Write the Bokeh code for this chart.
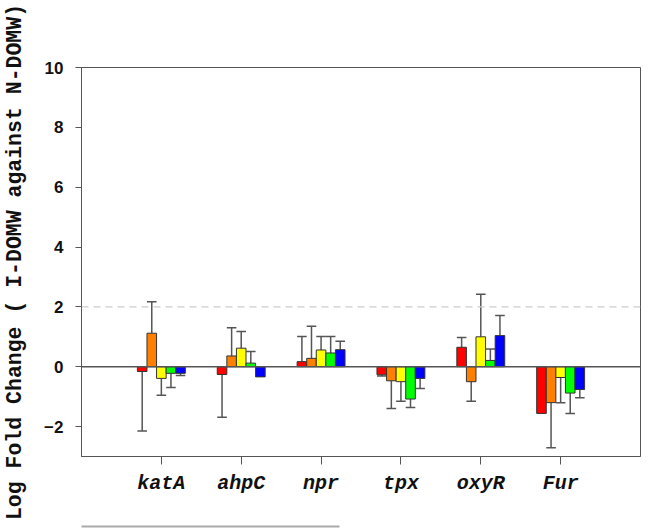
from bokeh.plotting import figure
from bokeh.models import Range1d, FixedTicker, Span, ColumnDataSource, LinearAxis
from bokeh.embed import file_html
from bokeh.resources import INLINE

# Genes on the x axis
genes = ["katA", "ahpC", "npr", "tpx", "oxyR", "Fur"]

# Five sample series (one bar colour each), log fold change per gene
series_colors = ["#ff0000", "#ff8000", "#ffff00", "#00ff00", "#0000ff"]
fc_red = [-0.16, -0.26, 0.17, -0.27, 0.65, -1.56]
fc_orange = [1.12, 0.36, 0.28, -0.47, -0.50, -1.20]
fc_yellow = [-0.39, 0.62, 0.56, -0.50, 1.00, -0.36]
fc_green = [-0.22, 0.12, 0.46, -1.08, 0.21, -0.88]
fc_blue = [-0.22, -0.34, 0.57, -0.39, 1.04, -0.76]

# One-sided error (drawn away from zero)
err_red = [1.99, 1.43, 0.84, 0.04, 0.33, 0.0]
err_orange = [1.05, 0.94, 1.07, 0.93, 0.65, 1.51]
err_yellow = [0.56, 0.56, 0.45, 0.65, 1.42, 0.84]
err_green = [0.47, 0.39, 0.55, 0.28, 0.38, 0.68]
err_blue = [0.07, 0.0, 0.28, 0.34, 0.67, 0.28]

y_ticks = [-2, 0, 2, 4, 6, 8, 10]

values = [fc_red, fc_orange, fc_yellow, fc_green, fc_blue]
errors = [err_red, err_orange, err_yellow, err_green, err_blue]

BAR_W = 0.12
offsets = [-2 * BAR_W, -BAR_W, 0.0, BAR_W, 2 * BAR_W]

p = figure(width=660, height=531,
           x_range=Range1d(0, 7), y_range=Range1d(-3, 10),
           output_backend="svg", toolbar_location=None,
           min_border_left=81, min_border_right=20,
           min_border_top=67, min_border_bottom=75)

p.background_fill_color = "white"
p.border_fill_color = "white"
p.outline_line_color = "#555555"
p.outline_line_width = 1
p.xgrid.visible = False
p.ygrid.visible = False

# reference lines
p.add_layout(Span(location=2, dimension="width", line_color="#cccccc",
                  line_width=1.2, line_dash="7 5"))
p.add_layout(Span(location=0, dimension="width", line_color="#555555",
                  line_width=1.5))

for vals, errs, off, col in zip(values, errors, offsets, series_colors):
    xs = [i + 1 + off for i in range(len(genes))]
    # error bars: vertical stem + cap, only where an error exists
    ex, y0, y1, cx0, cx1 = [], [], [], [], []
    for x, v, e in zip(xs, vals, errs):
        if e <= 0:
            continue
        end = v + e if v >= 0 else v - e
        ex.append(x)
        y0.append(v)
        y1.append(end)
        cx0.append(x - BAR_W / 2)
        cx1.append(x + BAR_W / 2)
    p.segment(x0=ex, y0=y0, x1=ex, y1=y1, line_color="#555555", line_width=1.5)
    p.segment(x0=cx0, y0=y1, x1=cx1, y1=y1, line_color="#555555", line_width=1.5)

    src = ColumnDataSource(dict(x=xs, top=vals))
    p.vbar(x="x", top="top", bottom=0, width=BAR_W, source=src,
           fill_color=col, line_color="#333333", line_width=1)

# x axis
p.xaxis.ticker = FixedTicker(ticks=list(range(1, len(genes) + 1)))
p.xaxis.major_label_overrides = {i + 1: g for i, g in enumerate(genes)}
p.xaxis.major_label_text_font = "Liberation Mono"
p.xaxis.major_label_text_font_style = "bold italic"
p.xaxis.major_label_text_font_size = "20px"
p.xaxis.major_label_text_color = "#111111"
p.xaxis.major_label_standoff = 7
p.xaxis.major_tick_out = 8
p.xaxis.major_tick_in = 0
p.xaxis.minor_tick_line_color = None
p.xaxis.axis_line_color = "#555555"
p.xaxis.major_tick_line_color = "#555555"
# blank axis label only reserves room above the gray rule
p.xaxis.axis_label = " "
p.xaxis.axis_label_text_font_size = "20px"
p.xaxis.axis_label_standoff = 4

# thin gray rule under the chart: a bare, bounded axis line
rule = LinearAxis(ticker=FixedTicker(ticks=[]), bounds=(0, 3.225),
                  axis_line_color="#aaaaaa", axis_line_width=2,
                  major_tick_line_color=None, minor_tick_line_color=None,
                  major_label_text_color=None)
p.add_layout(rule, "below")

# y axis
p.yaxis.ticker = FixedTicker(ticks=y_ticks)
p.yaxis.major_label_text_font = "Liberation Sans"
p.yaxis.major_label_text_font_style = "bold"
p.yaxis.major_label_text_font_size = "17px"
p.yaxis.major_label_text_color = "#111111"
p.yaxis.major_label_standoff = 12
p.yaxis.major_tick_out = 6
p.yaxis.major_tick_in = 0
p.yaxis.minor_tick_line_color = None
p.yaxis.axis_line_color = "#555555"
p.yaxis.major_tick_line_color = "#555555"
p.yaxis.axis_label = "Log Fold Change ( I-DOMW against N-DOMW)"
p.yaxis.axis_label_text_font = "Liberation Mono"
p.yaxis.axis_label_text_font_style = "bold"
p.yaxis.axis_label_text_font_size = "21.5px"
p.yaxis.axis_label_text_color = "#111111"
p.yaxis.axis_label_standoff = 14

with open("out.html", "w") as f:
    f.write(file_html(p, INLINE))
